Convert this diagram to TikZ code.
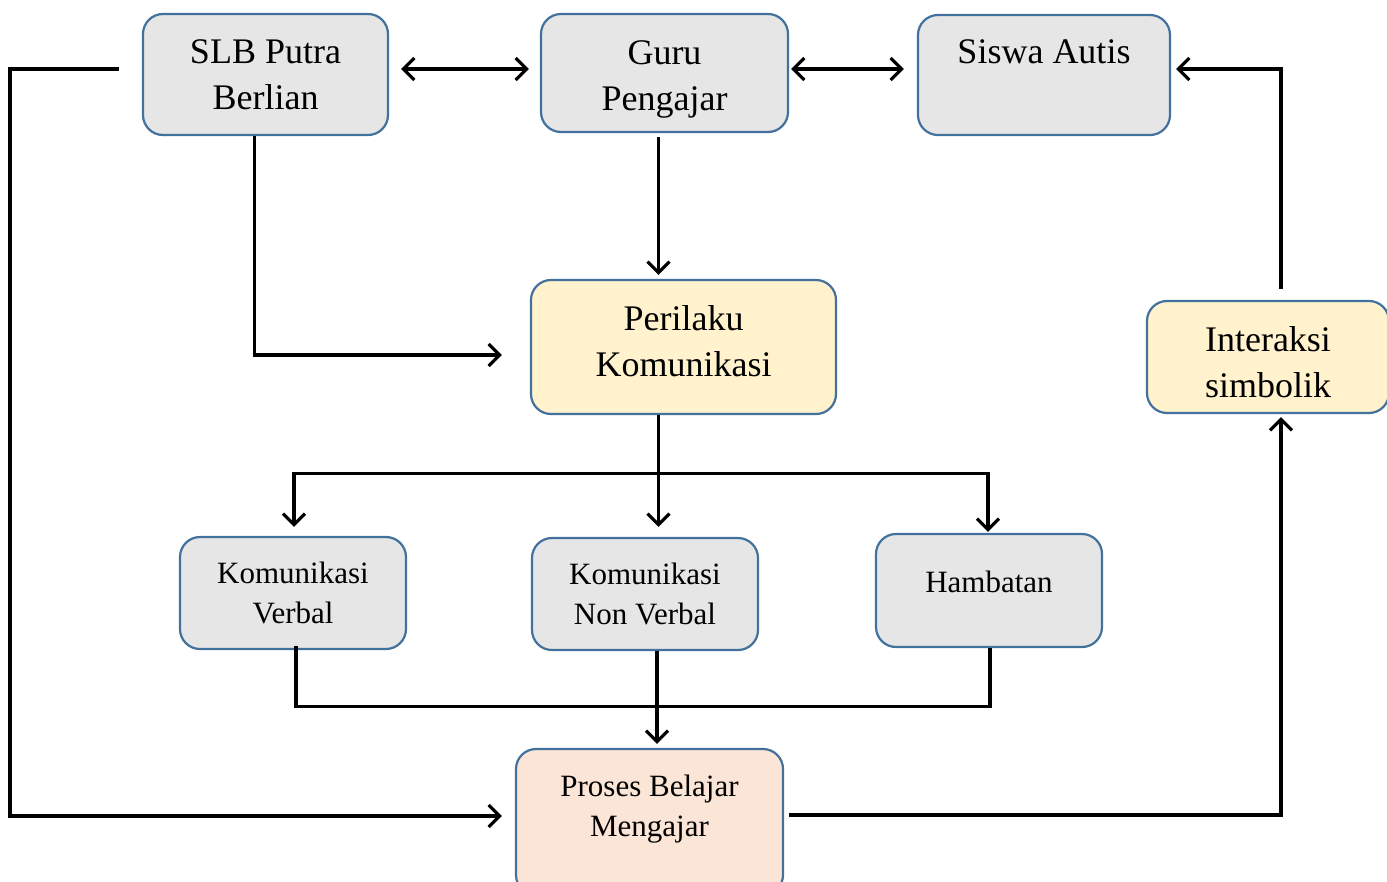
\documentclass[tikz,border=0pt]{standalone}
\usepackage{fontspec}
\setmainfont{Liberation Serif}
\usetikzlibrary{arrows.meta,calc}
\definecolor{boxgrey}{HTML}{E7E6E6}
\definecolor{boxblue}{HTML}{41719C}
\definecolor{boxyellow}{HTML}{FFF2CC}
\definecolor{boxpeach}{HTML}{FBE5D6}
\begin{document}
\begin{tikzpicture}[x=1pt,y=-1pt,
 box/.style={draw=boxblue, line width=2.2pt, rounded corners=20pt, align=center, inner sep=0pt},
 big/.style={font=\fontsize{36}{46}\selectfont},
 small/.style={font=\fontsize{31}{40}\selectfont},
 conn/.style={line width=3.2pt, line join=miter},
 arr/.style={conn, -{Straight Barb[length=11pt,width=22pt]}},
 darr/.style={conn, {Straight Barb[length=11pt,width=22pt]}-{Straight Barb[length=11pt,width=22pt]}}]
\useasboundingbox (0,0) rectangle (1387,881);
\clip (0,0) rectangle (1387,881);
\fill[white] (0,0) rectangle (1387,881);

\node[box,big,fill=boxgrey,minimum width=245pt,minimum height=121pt] (slb) at (265.5,74.5) {SLB Putra\\Berlian};
\node[box,fill=boxgrey,minimum width=247pt,minimum height=118pt,
  label={[big,align=center,inner sep=0pt,yshift=-6pt]center:Guru\\Pengajar}] (guru) at (664.5,73) {};
\node[box,big,fill=boxgrey,minimum width=252pt,minimum height=120pt] (siswa) at (1044,75) {Siswa Autis\\\mbox{}};
\node[box,fill=boxyellow,minimum width=305pt,minimum height=134pt,
  label={[big,align=center,inner sep=0pt,yshift=6pt]center:Perilaku\\Komunikasi}] (perilaku) at (683.5,347) {};
\node[box,fill=boxyellow,minimum width=242pt,minimum height=112pt,
  label={[big,align=center,inner sep=0pt,yshift=-5.5pt]center:Interaksi\\simbolik}] (interaksi) at (1268,357) {};
\node[box,small,fill=boxgrey,minimum width=226pt,minimum height=112pt] (verbal) at (293,593) {Komunikasi\\Verbal};
\node[box,small,fill=boxgrey,minimum width=226pt,minimum height=112pt] (nonverbal) at (645,594) {Komunikasi\\Non Verbal};
\node[box,fill=boxgrey,minimum width=226pt,minimum height=113pt,
  label={[small,inner sep=0pt,yshift=9pt]center:Hambatan}] (hambatan) at (989,590.5) {};
\node[box,fill=boxpeach,minimum width=267pt,minimum height=146pt,
  label={[small,align=center,inner sep=0pt,yshift=13pt]center:Proses Belajar\\Mengajar}] (proses) at (649.5,822) {};

% top row
\draw[darr] ($(slb.east)+(12,-5.5)$) -- ($(guru.west)+(-11,-4)$);
\draw[darr] ($(guru.east)+(2,-4)$) -- ($(siswa.west)+(-13,-6)$);

% left loop
\coordinate (lfree) at ($(slb.west)+(-23,-5.5)$);
\draw[arr] (lfree) -- ++(-109,0) |- ($(proses.west)+(-13,-6)$);

% SLB to Perilaku
\draw[arr] ($(slb.south)+(-11,0)$) |- ($(perilaku.west)+(-28,8)$);

% Guru to Perilaku
\draw[arr] ($(guru.south)+(-6,4)$) -- ($(perilaku.north)+(-25,-4)$);

% Perilaku split
\coordinate (split) at ($(perilaku.south)+(-25,58)$);
\draw[arr] ($(perilaku.south)+(-25,0)$) -- ($(nonverbal.north)+(13.5,-10)$);
\draw[arr] (split) -| ($(verbal.north)+(1,-9)$);
\draw[arr] (split) -| ($(hambatan.north)+(-1,-1)$);

% merge to Proses
\draw[conn] ($(verbal.south)+(3,-4)$) |- ($(hambatan.south)+(1,58)$) -- ($(hambatan.south)+(1,0)$);
\draw[arr] ($(nonverbal.south)+(12,0)$) -- ($(proses.north)+(7.5,-4)$);

% right loop
\draw[arr] ($(proses.east)+(5,-7)$) -| ($(interaksi.south)+(13,3)$);
\draw[arr] ($(interaksi.north)+(13,-11)$) |- ($(siswa.east)+(5,-6)$);
\end{tikzpicture}
\end{document}
